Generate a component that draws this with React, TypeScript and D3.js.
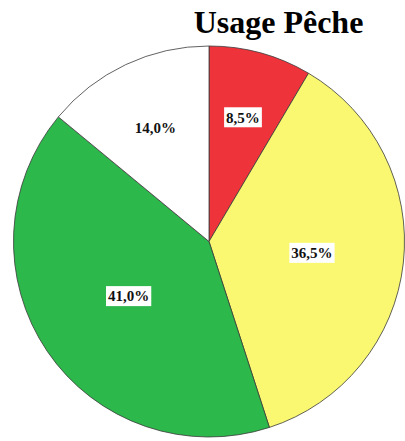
import React, { useEffect, useRef } from "react";
import * as d3 from "d3";

const categories = ["A", "B", "C", "D"];
const values = [8.5, 36.5, 41.0, 14.0];
const colors = ["#EF333B", "#FAF870", "#2DB84B", "#FFFFFF"];
const labels = ["8,5%", "36,5%", "41,0%", "14,0%"];
const boxed = [true, true, true, false];
const title = "Usage Pêche";

export default function App() {
  const ref = useRef<SVGSVGElement>(null);
  useEffect(() => {
    const svg = d3.select(ref.current);
    svg.selectAll("*").remove();
    const W = 405, H = 441;
    const cx = 209, cy = 241.5, R = 195.5;
    svg.append("rect").attr("width", W).attr("height", H).attr("fill", "#fff");
    svg.append("text").attr("x", 278.5).attr("y", 33)
      .attr("text-anchor", "middle")
      .attr("font-family", "Liberation Serif, Times New Roman, serif")
      .attr("font-weight", "bold").attr("font-size", 32).attr("fill", "#000")
      .text(title);
    const data = categories.map((c, i) => ({ c, v: values[i], i }));
    const pie = d3.pie<any>().value(d => d.v).sort(null);
    const arcs = pie(data);
    const arc = d3.arc<any>().innerRadius(0).outerRadius(R);
    const g = svg.append("g").attr("transform", `translate(${cx},${cy})`);
    g.selectAll("path").data(arcs).enter().append("path")
      .attr("d", arc as any)
      .attr("fill", (d: any) => colors[d.data.i])
      .attr("stroke", "#3a3a3a").attr("stroke-width", 0.8);
    arcs.forEach((a: any) => {
      const alpha = a.endAngle - a.startAngle;
      const dist = (4 * R * Math.sin(alpha / 2)) / (3 * alpha);
      const mid = (a.startAngle + a.endAngle) / 2;
      const x = dist * Math.sin(mid), y = -dist * Math.cos(mid);
      const lg = g.append("g").attr("transform", `translate(${x},${y})`);
      const t = lg.append("text").attr("text-anchor", "middle").attr("dy", "0.35em")
        .attr("font-family", "Liberation Serif, Times New Roman, serif")
        .attr("font-weight", "bold").attr("font-size", 15).attr("fill", "#111")
        .text(labels[a.data.i]);
      if (boxed[a.data.i]) {
        const bb = (t.node() as SVGTextElement).getBBox();
        lg.insert("rect", "text").attr("x", bb.x - 2).attr("y", -10)
          .attr("width", bb.width + 4).attr("height", 20).attr("fill", "#fff");
      }
    });
  }, []);
  return (
    <svg ref={ref} width={405} height={441}
      style={{ position: "absolute", left: 0, top: 0, display: "block" }} />
  );
}
